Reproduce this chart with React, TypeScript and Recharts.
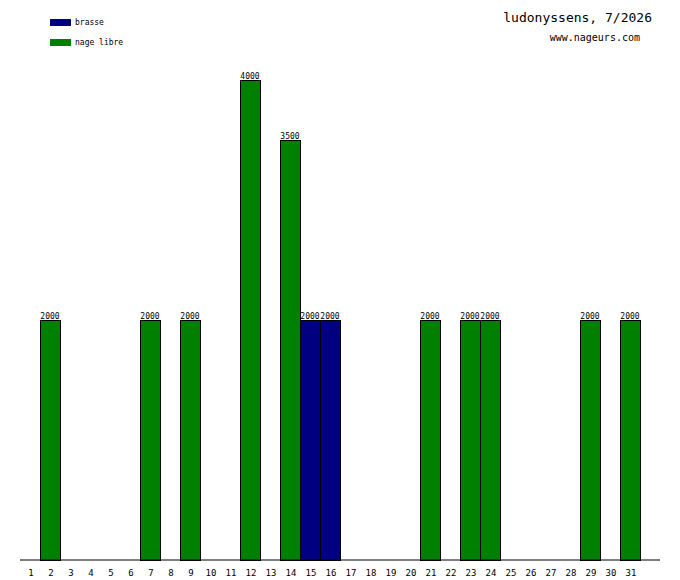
import React from 'react';
import { BarChart, Bar, XAxis, YAxis, LabelList } from 'recharts';

// jours du mois (1..31)
const days = Array.from({ length: 31 }, (_, i) => i + 1);
// distances (m) par nage, null = rien ce jour-là
const brasseValues: Record<number, number> = { 15: 2000, 16: 2000 };
const nageLibreValues: Record<number, number> = {
  2: 2000, 7: 2000, 9: 2000, 12: 4000, 14: 3500,
  21: 2000, 23: 2000, 24: 2000, 29: 2000, 31: 2000,
};
const seriesDefs = [
  { key: 'brasse', label: 'brasse', color: '#000080' },
  { key: 'nageLibre', label: 'nage libre', color: '#008000' },
];
const title = 'ludonyssens, 7/2026';
const subtitle = 'www.nageurs.com';

const data = days.map((d) => ({
  day: d,
  brasse: brasseValues[d] ?? null,
  nageLibre: nageLibreValues[d] ?? null,
}));

const MONO = '"DejaVu Sans Mono", "Liberation Mono", monospace';
const SLOT = 20; // largeur d'un jour en px (640 px / 32)

// eslint-disable-next-line @typescript-eslint/no-explicit-any
const valueLabel = (props: any) => {
  const { x, y, width, value } = props;
  if (value == null) return null;
  return (
    <text x={x + width / 2} y={y - 1.5} textAnchor="middle" fontSize={8} fontFamily={MONO} fill="#000">
      {value}
    </text>
  );
};

// rectangle net, pleine largeur du jour, bords sur les pixels
// eslint-disable-next-line @typescript-eslint/no-explicit-any
const crispBar = (props: any) => {
  const { x, y, width, height, fill } = props;
  if (!height) return <g />;
  const cx = x + width / 2;
  const x0 = Math.round(cx - SLOT / 2);
  const y0 = Math.round(y);
  const y1 = Math.round(y + height);
  return (
    <rect x={x0 + 0.5} y={y0 + 0.5} width={SLOT} height={y1 - y0} fill={fill} stroke="#000" strokeWidth={1} />
  );
};

export default function App() {
  return (
    <div style={{ position: 'absolute', left: 0, top: 0, width: 680, height: 580, background: '#fff' }}>
      <BarChart
        width={680}
        height={580}
        data={data}
        margin={{ top: 20, right: 20, bottom: 0, left: 20 }}
        barSize={20}
        barGap={0}
      >
        <XAxis
          dataKey="day"
          type="number"
          domain={[0.5, 32.5]}
          ticks={days}
          interval={0}
          height={20}
          tickLine={false}
          tickSize={0}
          tickMargin={10}
          axisLine={{ stroke: '#000' }}
          tick={{ fontSize: 9, fontFamily: MONO, fill: '#000', dx: 1 }}
        />
        <YAxis domain={[0, 4500]} width={0} tick={false} tickLine={false} axisLine={{ stroke: '#000' }} />
        {seriesDefs.map((s) => (
          <Bar
            key={s.key}
            dataKey={s.key}
            stackId="1"
            fill={s.color}
            shape={crispBar}
            isAnimationActive={false}
          >
            <LabelList dataKey={s.key} content={valueLabel} />
          </Bar>
        ))}
      </BarChart>

      {seriesDefs.map((s, i) => (
        <div
          key={s.key}
          style={{ position: 'absolute', left: 50, top: 18 + i * 20, display: 'flex', alignItems: 'center', gap: 4 }}
        >
          <span style={{ display: 'inline-block', width: 21, height: 7, background: s.color }} />
          <span style={{ fontFamily: MONO, fontSize: 8, color: '#000' }}>{s.label}</span>
        </div>
      ))}

      <div style={{ position: 'absolute', right: 28, top: 10, fontFamily: MONO, fontSize: 13, color: '#000' }}>
        {title}
      </div>
      <div style={{ position: 'absolute', right: 40, top: 32, fontFamily: MONO, fontSize: 10, color: '#000' }}>
        {subtitle}
      </div>
    </div>
  );
}
